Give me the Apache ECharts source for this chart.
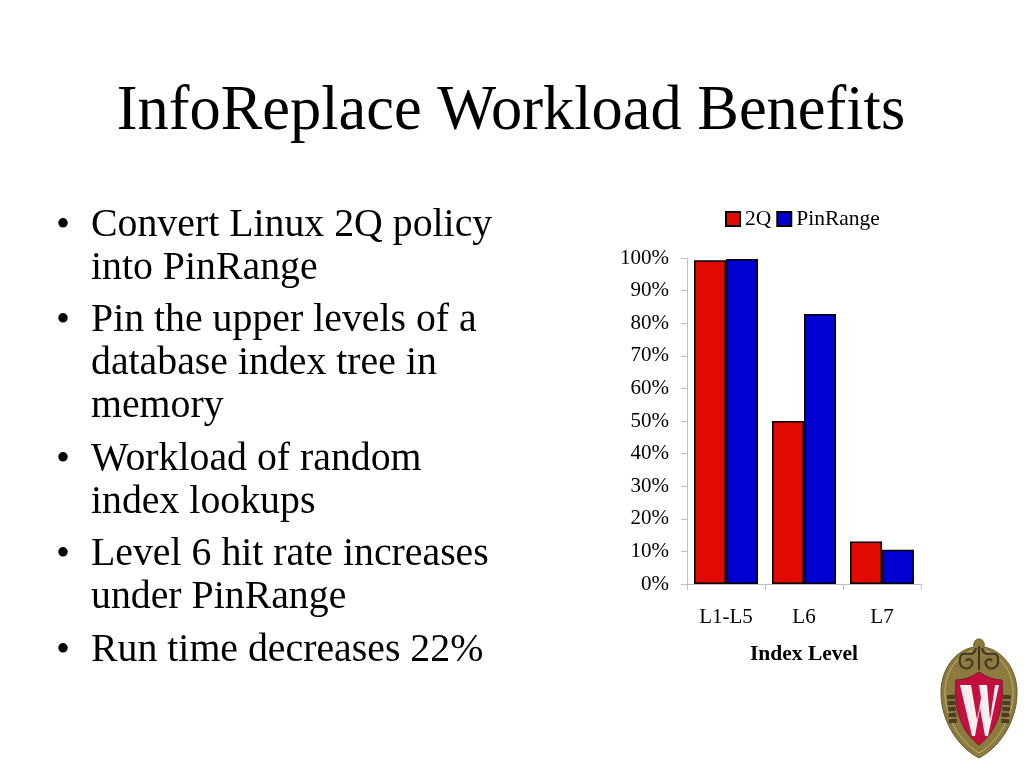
<!DOCTYPE html>
<html><head><meta charset="utf-8">
<style>html,body{margin:0;padding:0;background:#fff}#c{width:1024px;height:768px}</style>
<script src="https://cdn.jsdelivr.net/npm/echarts@6/dist/echarts.min.js"></script>
</head><body><div id="c"></div>
<script>
const categories = ['L1-L5','L6','L7'];
const values2Q = [99.3,50,13];
const valuesPinRange = [99.7,82.8,10.5];
const titleText = 'InfoReplace Workload Benefits';
const axisName = 'Index Level';
const bulletLines = [
 ['•','Convert Linux 2Q policy',223],
 ['','into PinRange',266],
 ['•','Pin the upper levels of a',318],
 ['','database index tree in',361],
 ['','memory',404],
 ['•','Workload of random',457],
 ['','index lookups',500],
 ['•','Level 6 hit rate increases',552],
 ['','under PinRange',595],
 ['•','Run time decreases 22%',648]
];
const serif = '"Liberation Serif","Times New Roman",serif';
const txt = (x,y,text,size,align,extra) => ({type:'text',x,y,silent:true,style:Object.assign({text,fill:'#000',font:size+'px '+serif,align:align||'left',verticalAlign:'middle'},extra||{})});
const graphics = [txt(511,113,titleText,62.4,'center')];
bulletLines.forEach(l=>{ if(l[0]) graphics.push(txt(56,l[2]+3,l[0],40)); graphics.push(txt(91,l[2]+3,l[1],39.8)); });
// crest decoration
const shapeDefs = {
 crestBody:'M979 639 C975 639 973 643 974 647 C956 650 942 668 941 690 C940 718 956 746 979 758 C1002 746 1018 718 1017 690 C1016 668 1002 650 984 647 C985 643 983 639 979 639 Z',
 crestRing:'M972 651 C958 655 946 670 945 690 C944 716 959 741 979 753 C999 741 1014 716 1013 690 C1012 670 1000 655 986 651',
 crestScroll:'M976 648 C974 660 962 648 960 658 C958 668 968 672 972 665 C974 660 968 657 966 661 M982 648 C984 660 996 648 998 658 C1000 668 990 672 986 665 C984 660 990 657 992 661 M979 646 L979 670',
 crestSide:'M951 695 L953 723 M1007 695 L1005 723',
 crestShield:'M956 680 Q968 680 979 672 Q990 680 1002 680 C1004 708 998 730 979 745 C960 730 954 708 956 680 Z',
 crestW:'M960 685 L971 685 L977 720 L981 698 L979 685 L987 685 L990 720 L995 685 L999 685 L988 736 L985 736 L980 708 L975 736 L972 736 Z'
};
Object.keys(shapeDefs).forEach(k=>echarts.graphic.registerShape(k,echarts.graphic.extendPath(shapeDefs[k],{})));
graphics.push({type:'group',silent:true,children:[
 {type:'crestBody',style:{fill:'#8c7a3e',stroke:'#6a5a2c',lineWidth:1}},
 {type:'crestRing',style:{fill:'none',stroke:'#c2b27a',lineWidth:1}},
 {type:'crestScroll',style:{fill:'none',stroke:'#3f3520',lineWidth:2}},
 {type:'crestSide',style:{fill:'none',stroke:'#4a3f22',lineWidth:8,lineDash:[4,2]}},
 {type:'crestShield',style:{fill:'#c5103f',stroke:'#6f1a2a',lineWidth:1}},
 {type:'crestW',style:{fill:'#f7eef0'}}
]});
const chart = echarts.init(document.getElementById('c'),null,{renderer:'canvas'});
const axisLine={show:true,lineStyle:{color:'#c0c0c0',width:1}};
const barStyle=c=>({color:c,borderColor:'#000',borderWidth:1.5});
chart.setOption({
 animation:false,
 backgroundColor:'#fff',
 textStyle:{fontFamily:serif,color:'#000'},
 legend:{data:['2Q','PinRange'],left:725,top:208,padding:0,itemWidth:14,itemHeight:14,itemGap:5,icon:'rect',
  textStyle:{fontFamily:serif,fontSize:21.5,color:'#000'}},
 grid:{left:687,top:258,width:234,height:326,containLabel:false},
 xAxis:{type:'category',data:categories,name:axisName,nameLocation:'middle',nameGap:59,
  nameTextStyle:{fontFamily:serif,fontSize:21.5,fontWeight:'bold',color:'#000'},
  axisLine,axisTick:{show:true,length:6,lineStyle:{color:'#c0c0c0'}},
  axisLabel:{fontFamily:serif,fontSize:21,color:'#000',margin:23},splitLine:{show:false}},
 yAxis:{type:'value',min:0,max:100,interval:10,
  axisLine,axisTick:{show:true,length:6,lineStyle:{color:'#c0c0c0'}},
  axisLabel:{fontFamily:serif,fontSize:21,color:'#000',margin:18,padding:[6,0,0,0],formatter:'{value}%'},splitLine:{show:false}},
 series:[
  {name:'2Q',type:'bar',data:values2Q,barWidth:32,barGap:'0%',itemStyle:barStyle('#e00a00')},
  {name:'PinRange',type:'bar',data:valuesPinRange,barWidth:32,itemStyle:barStyle('#0000d0')}
 ],
 graphic:graphics
});
</script></body></html>
